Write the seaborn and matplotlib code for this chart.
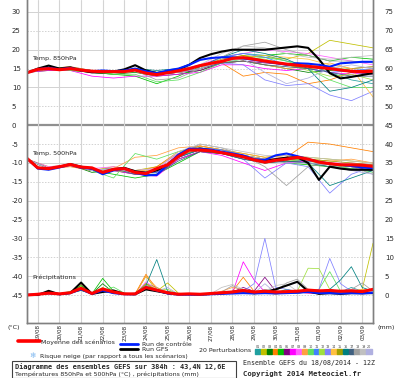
import numpy as np
import pandas as pd
import seaborn as sns
import matplotlib
matplotlib.use("Agg")
import matplotlib.pyplot as plt
from matplotlib.lines import Line2D
from matplotlib.patches import Rectangle

# ---------------- DATA ----------------
dates = ["19/08", "20/08", "21/08", "22/08", "23/08", "24/08", "25/08", "26/08",
         "27/08", "28/08", "29/08", "30/08", "31/08", "01/09", "02/09", "03/09"]

# 12-hourly main runs (t = 0 .. 16 days from 18/08 12Z)
mean850 = [13.9, 14.8, 15.0, 14.7, 15.0, 14.6, 14.3, 14.2, 14.2, 14.2, 14.6, 13.8, 13.4, 13.9, 14.4, 15.0, 15.8,
           16.4, 16.9, 17.7, 17.9, 17.5, 17.0, 16.6, 16.2, 15.9, 15.6, 15.3, 15.0, 14.6, 14.3, 14.2, 14.3]
ctrl850 = [13.9, 14.8, 15.2, 14.8, 15.2, 14.5, 14.3, 14.5, 14.3, 14.5, 15.0, 14.3, 13.8, 14.5, 15.0, 16.0, 17.3,
           17.8, 18.0, 18.0, 17.7, 17.3, 16.9, 16.5, 16.0, 16.4, 16.3, 16.0, 15.5, 16.4, 16.6, 16.8, 16.8]
gfs850 = [13.9, 15.0, 15.8, 15.0, 15.3, 14.5, 14.0, 14.0, 14.2, 14.8, 15.9, 14.5, 13.8, 14.2, 14.8, 16.0, 17.8,
          18.8, 19.5, 20.0, 20.0, 20.0, 20.0, 20.3, 20.6, 20.9, 20.5, 17.5, 13.8, 12.4, 12.8, 13.3, 13.8]

mean500 = [-8.8, -11.3, -11.5, -11.0, -10.4, -11.1, -11.3, -12.5, -11.7, -11.5, -12.5, -12.8, -11.5, -10.5, -8.3,
           -6.6, -6.6, -6.8, -7.3, -7.8, -8.4, -9.2, -9.8, -9.3, -9.0, -8.5, -9.0, -9.8, -10.2, -10.5, -10.5, -10.6, -10.9]
ctrl500 = [-8.8, -11.5, -11.8, -11.2, -10.5, -11.3, -11.5, -13.0, -12.0, -11.5, -12.5, -13.3, -13.2, -10.5, -7.8,
           -6.2, -6.3, -6.5, -7.0, -7.5, -8.0, -9.0, -9.2, -8.0, -7.5, -8.2, -9.0, -9.7, -10.2, -10.5, -10.8, -11.2, -11.4]
gfs500 = [-8.8, -11.3, -11.5, -11.0, -10.3, -11.0, -11.5, -12.5, -11.7, -11.3, -12.2, -12.6, -12.0, -10.5, -8.0,
          -6.5, -6.2, -6.6, -7.2, -7.8, -8.3, -9.2, -9.5, -9.0, -8.6, -8.5, -10.0, -14.5, -11.0, -11.5, -11.8, -11.8, -11.8]

meanpr = [0, 0.2, 0.5, 0.3, 0.6, 1.8, 0.4, 1.6, 0.8, 0.3, 0.3, 2.0, 1.3, 0.6, 0.2, 0.3, 0.2,
          0.4, 0.6, 0.8, 1.2, 0.8, 1.0, 0.8, 0.9, 1.0, 1.3, 1.1, 1.2, 1.0, 1.1, 0.9, 1.5]
ctrlpr = [0, 0.2, 0.5, 0.2, 0.5, 1.5, 0.3, 1.2, 0.5, 0.2, 0.2, 2.0, 1.2, 0.4, 0.1, 0.1, 0.1,
          0.2, 0.3, 0.4, 0.5, 0.4, 0.5, 0.4, 0.5, 0.6, 0.8, 0.5, 0.5, 0.4, 0.5, 0.4, 0.6]
gfspr = [0, 0, 1.1, 0.2, 0.5, 3.3, 0.3, 0.8, 1.2, 0.3, 0.2, 1.5, 1.0, 0.5, 0.2, 0.2, 0.1,
         0.3, 0.5, 0.8, 1.2, 0.5, 0.8, 1.5, 2.5, 3.5, 1.0, 0.3, 0.5, 0.3, 0.5, 0.5, 0.5]

# daily perturbation members, 850 hPa (t = 0 .. 16 days)
p850 = {
    "01": [14, 15.5, 15, 14.5, 14, 15, 14, 14.5, 15.5, 18, 19, 18.5, 17, 16, 14, 12, 11],
    "02": [14, 15, 15.5, 14, 14, 14.5, 13.5, 14, 15, 17, 18.5, 18, 17.5, 19, 22.5, 21.5, 20.5],
    "03": [14, 15, 14.5, 14, 13.5, 14, 13, 13.5, 14.5, 16.5, 17, 16, 15, 14, 14.5, 15, 15.5],
    "04": [14, 15, 15, 14, 14, 14.5, 13.5, 14, 15, 16.5, 13, 14, 13.5, 11, 12, 14, 15],
    "05": [14, 14.5, 15, 14, 13.5, 13, 11, 13, 15.5, 17, 18, 18.5, 19, 18.5, 17, 18, 17.5],
    "06": [14, 15, 15, 14, 14, 14.5, 13.5, 14, 14.5, 16.5, 17, 16.5, 16, 15.5, 15, 14, 13.5],
    "07": [14, 14.5, 14.5, 13, 12.5, 13, 13, 13.5, 14, 16, 16, 15, 14.5, 15, 14, 13.5, 14.5],
    "08": [14, 15, 15.5, 14.5, 14, 14.5, 13.5, 14.5, 16, 18, 19, 20, 19.5, 19, 18, 17, 16],
    "09": [14, 15, 15, 14, 14, 14.5, 14, 14, 15, 16.5, 17, 16, 15, 15.5, 16.5, 15, 15.5],
    "10": [14, 15, 14.5, 14, 13.5, 13.5, 11.5, 12, 14, 16.5, 17.5, 18, 17, 15, 12, 10, 10],
    "11": [14, 15, 15, 14.5, 14, 15, 14, 14.5, 15.5, 18, 19, 18, 16, 15, 14, 14.5, 15],
    "12": [14, 15, 15, 14, 14, 14.5, 14, 14, 15, 17, 18, 17.5, 16, 14.5, 13, 13.5, 12],
    "13": [14, 15, 15, 14, 14, 14.5, 13.5, 14, 15, 16.5, 16, 12, 10.5, 11, 8, 6.5, 9],
    "14": [14, 15, 15, 14, 14, 14.5, 14, 14, 15, 17, 18, 18.5, 18, 17.5, 16, 15, 7.5],
    "15": [14, 15, 15.5, 14.5, 14, 15, 14, 14.5, 15.5, 17.5, 18.5, 17, 16, 15, 15.5, 14.5, 14],
    "16": [14, 15, 15, 14.5, 14, 15, 14.5, 15, 15.5, 18, 20, 19, 17.5, 15, 9, 10, 12],
    "17": [14, 15, 15, 14, 14, 14.5, 13.5, 14, 15, 16.5, 17, 16, 15.5, 15, 14, 13, 13],
    "18": [14, 15, 15, 14, 14, 14.5, 12, 12.5, 15, 18, 21, 22, 20, 18.5, 17, 17, 16.5],
    "19": [14, 15, 15, 14.5, 14, 14.5, 13.5, 14.5, 16, 19, 21, 20.5, 19, 18, 17.5, 18, 18.5],
    "20": [14, 15, 15, 14, 14, 14.5, 14, 14, 15, 17, 17.5, 14, 11, 12.5, 15, 16, 15],
}

# daily perturbation members, 500 hPa
p500 = {
    "01": [-9, -11.5, -10.5, -12, -11.5, -12.5, -12, -8, -6, -7, -8, -9, -9, -10, -11, -11.5, -12],
    "02": [-9, -11, -10.5, -12, -11, -12, -11, -7.5, -5.5, -6.5, -7.5, -8.5, -8, -8.5, -9, -9.5, -10],
    "03": [-9, -11.5, -10.5, -12.5, -12, -13, -13, -9, -7, -7.5, -8.5, -10, -9.5, -10, -10.5, -11, -11],
    "04": [-9, -11.5, -11, -12, -11.5, -12.5, -11, -7, -5.5, -6.5, -8, -9.5, -8.5, -4.5, -5, -6, -7],
    "05": [-9, -11.5, -10.5, -12, -13, -14, -13, -10, -7, -7.5, -8, -9, -10, -10.5, -11, -10.5, -11],
    "06": [-9, -11.5, -10.5, -12, -11.5, -12.5, -12.5, -8.5, -6.5, -7, -8.5, -9.5, -9, -9.5, -10, -11, -12],
    "07": [-9, -11.5, -10.5, -12, -12, -13, -13.5, -9, -7, -8, -10, -12, -10, -9.5, -10, -11, -10.5],
    "08": [-9, -11, -10.5, -11.5, -11, -12, -11.5, -7.5, -6, -7, -8, -9, -8.5, -9, -10, -10, -10.5],
    "09": [-9, -11.5, -10.5, -12, -11.5, -8.5, -8, -6, -5.5, -6.5, -7.5, -8.5, -8, -9, -9.5, -9, -10],
    "10": [-9, -11.5, -10.5, -12, -14, -7.5, -9, -7, -6, -7, -8.5, -9.5, -9, -9.5, -10.5, -11.5, -12.5],
    "11": [-9, -11.5, -10.5, -12, -11.5, -12.5, -12.5, -8.5, -6, -6.5, -8, -9, -9, -9.5, -10, -10.5, -11],
    "12": [-9, -11.5, -10.5, -12, -12, -12.5, -12, -8, -6.5, -7, -8.5, -10, -9.5, -9, -10, -11, -11.5],
    "13": [-9, -11.5, -10.5, -12, -11.5, -12.5, -12, -8.5, -6.5, -7.5, -9, -14, -10, -11, -18, -13, -11],
    "14": [-9, -11.5, -10.5, -12, -11.5, -12, -12, -8, -6, -7, -8, -9, -8.5, -9, -10, -10.5, -11],
    "15": [-9, -11.5, -10.5, -12, -11.5, -12.5, -12, -8, -6.5, -7, -8.5, -9.5, -9, -9, -9.5, -10, -10.5],
    "16": [-9, -11.5, -10.5, -12, -11.5, -12.5, -12, -8.5, -6.5, -7.5, -9, -10, -9.5, -10, -16, -14, -12],
    "17": [-9, -11.5, -10.5, -12, -11.5, -13, -13, -9.5, -7, -7.5, -9, -10, -9.5, -10, -11, -12, -12],
    "18": [-9, -11.5, -10.5, -12, -11.5, -12.5, -12, -8, -5, -6, -8, -11, -16, -11, -10, -11, -13],
    "19": [-9, -11.5, -10.5, -12, -11.5, -12, -11.5, -7, -5, -6, -7, -8, -8, -8.5, -9, -9.5, -10],
    "20": [-9, -11.5, -10.5, -12, -11.5, -12.5, -12, -8, -6, -7, -8.5, -9.5, -10, -10, -10.5, -12, -13],
}

# 12-hourly perturbation precipitation (mm)
ppr = {
    "01": [0, 0.2, 0.5, 0.2, 0.5, 1.5, 0.3, 1.5, 0.8, 0.2, 0.2, 3.0, 2.0, 0.5, 0.2, 0.2, 0.1, 0.3, 0.5, 0.5, 1.0, 0.5, 0.5, 0.8, 0.5, 0.8, 1.0, 0.8, 1.5, 0.8, 2.0, 1.0, 0.8],
    "02": [0, 0.2, 0.5, 0.2, 0.8, 2.5, 0.3, 2.0, 0.5, 0.2, 0.2, 5.0, 1.0, 3.2, 0.5, 0.2, 0.1, 0.3, 0.3, 0.5, 0.8, 0.3, 0.5, 0.3, 0.5, 0.5, 0.8, 0.5, 1.0, 0.5, 0.8, 1.5, 13.7],
    "03": [0, 0.1, 0.3, 0.2, 0.5, 1.2, 0.3, 3.0, 0.6, 0.2, 0.2, 2.5, 1.0, 0.3, 0.2, 0.2, 0.1, 0.2, 0.5, 0.8, 0.6, 0.5, 1.0, 0.5, 0.8, 0.5, 1.5, 0.8, 1.0, 0.5, 1.5, 0.8, 0.5],
    "04": [0, 0.2, 0.4, 0.2, 0.5, 2.0, 0.2, 1.2, 0.5, 0.2, 0.3, 5.5, 1.5, 0.5, 0.2, 0.1, 0.2, 0.5, 0.8, 1.0, 4.7, 1.0, 0.5, 0.3, 0.5, 0.8, 0.5, 0.3, 0.8, 0.5, 0.5, 0.3, 0.5],
    "05": [0, 0.2, 0.5, 0.3, 0.6, 2.5, 0.3, 4.4, 1.0, 0.3, 0.2, 2.5, 1.5, 0.5, 0.2, 0.2, 0.1, 0.2, 0.3, 0.5, 0.8, 0.5, 0.8, 0.5, 1.5, 0.8, 1.0, 0.5, 0.8, 1.0, 1.2, 0.8, 1.0],
    "06": [0, 0.1, 0.5, 0.2, 0.5, 1.8, 0.3, 1.0, 0.5, 0.2, 0.2, 2.0, 1.2, 0.3, 0.2, 0.1, 0.1, 0.3, 0.5, 0.8, 2.0, 1.0, 4.7, 1.0, 0.8, 0.5, 1.0, 0.5, 0.8, 1.0, 0.8, 0.5, 1.2],
    "07": [0, 0.2, 0.3, 0.2, 0.5, 1.5, 0.2, 1.0, 0.5, 0.2, 0.2, 2.2, 1.0, 0.5, 0.2, 0.2, 0.1, 0.2, 0.3, 0.5, 8.8, 4.0, 0.8, 0.5, 0.5, 0.8, 0.5, 0.5, 1.0, 0.8, 0.5, 0.8, 1.0],
    "08": [0, 0.2, 0.5, 0.2, 0.5, 2.0, 0.3, 1.5, 0.8, 0.2, 0.2, 3.5, 1.5, 0.5, 0.2, 0.2, 0.1, 0.2, 0.3, 0.5, 0.8, 0.5, 1.0, 0.5, 0.5, 0.8, 1.2, 0.8, 1.0, 0.5, 1.5, 1.0, 0.8],
    "09": [0, 0.2, 0.5, 0.2, 0.8, 3.0, 0.5, 1.5, 0.8, 0.3, 0.2, 5.0, 2.0, 0.8, 0.3, 0.2, 0.1, 0.3, 1.0, 2.0, 1.5, 0.8, 0.5, 0.3, 0.5, 0.8, 1.0, 0.5, 0.8, 0.5, 1.0, 1.5, 1.2],
    "10": [0, 0.2, 0.5, 0.3, 1.0, 1.5, 0.5, 1.2, 2.1, 0.5, 0.2, 2.0, 1.0, 0.5, 0.2, 0.2, 0.1, 0.2, 0.5, 0.8, 0.6, 0.5, 0.8, 0.5, 0.5, 0.8, 1.0, 1.5, 6.2, 1.0, 0.8, 0.5, 0.8],
    "11": [0, 0.2, 0.5, 0.2, 0.5, 1.8, 0.3, 1.2, 0.6, 0.2, 0.2, 2.5, 1.0, 0.4, 0.2, 0.2, 0.1, 0.2, 0.5, 0.5, 0.8, 0.5, 0.8, 0.5, 0.5, 0.5, 0.8, 0.5, 0.8, 0.5, 0.6, 0.5, 0.8],
    "12": [0, 0.2, 0.5, 0.2, 0.5, 1.5, 0.3, 1.0, 0.5, 0.2, 0.2, 2.0, 1.5, 1.5, 0.3, 0.2, 0.1, 0.2, 0.3, 0.5, 0.5, 0.3, 0.5, 0.5, 1.0, 1.0, 7.1, 7.0, 1.5, 0.8, 0.5, 0.5, 0.8],
    "13": [0, 0.2, 0.5, 0.2, 0.5, 1.5, 0.3, 1.0, 0.5, 0.2, 0.2, 2.5, 1.0, 0.5, 0.2, 0.2, 0.1, 0.3, 0.5, 0.8, 1.0, 3.0, 15.0, 2.0, 1.5, 1.0, 0.8, 1.5, 9.7, 3.0, 1.0, 0.5, 0.8],
    "14": [0, 0.2, 0.5, 0.2, 0.6, 2.0, 0.3, 1.5, 0.5, 0.2, 0.2, 3.0, 1.5, 0.5, 0.2, 0.2, 0.1, 0.2, 0.3, 0.5, 0.8, 0.5, 0.5, 0.3, 0.5, 0.5, 0.8, 0.5, 0.8, 0.5, 0.8, 0.5, 1.5],
    "15": [0, 0.2, 0.5, 0.2, 0.5, 2.0, 0.3, 1.5, 0.5, 0.2, 0.2, 3.0, 1.2, 0.8, 0.2, 0.2, 0.1, 0.2, 0.3, 0.5, 0.8, 0.5, 0.8, 0.5, 0.8, 0.5, 1.0, 0.8, 1.0, 0.8, 1.0, 0.8, 1.0],
    "16": [0, 0.2, 0.5, 0.2, 0.5, 1.5, 0.3, 1.2, 0.8, 0.3, 0.5, 2.5, 9.4, 1.0, 0.3, 0.2, 0.1, 0.2, 0.3, 0.5, 0.8, 0.5, 0.5, 0.5, 0.8, 0.5, 1.0, 1.0, 1.5, 4.0, 7.5, 2.0, 1.0],
    "17": [0, 0.1, 0.4, 0.2, 0.5, 1.5, 0.3, 1.0, 0.5, 0.2, 0.2, 2.0, 1.0, 0.4, 0.2, 0.2, 0.1, 0.2, 0.5, 0.8, 0.8, 0.5, 0.8, 0.5, 0.6, 0.5, 0.8, 0.5, 0.8, 0.5, 0.6, 0.5, 0.8],
    "18": [0, 0.2, 0.5, 0.2, 0.5, 1.5, 0.3, 1.2, 0.5, 0.2, 0.2, 2.5, 1.0, 0.5, 0.2, 0.2, 0.1, 0.3, 0.8, 2.5, 1.0, 0.5, 1.5, 1.0, 3.2, 4.2, 1.5, 0.8, 0.8, 0.5, 1.5, 3.2, 1.0],
    "19": [0, 0.2, 0.5, 0.2, 0.5, 1.5, 0.3, 1.0, 0.5, 0.2, 0.2, 2.0, 1.0, 0.5, 0.2, 0.2, 0.1, 0.3, 2.0, 2.8, 1.5, 0.5, 1.0, 2.5, 3.0, 1.0, 0.8, 0.5, 0.8, 0.5, 1.5, 1.0, 0.8],
    "20": [0, 0.2, 0.5, 0.2, 0.5, 1.5, 0.3, 1.0, 0.5, 0.2, 0.2, 2.0, 1.0, 2.0, 0.2, 0.2, 0.1, 0.2, 0.3, 0.5, 0.8, 0.5, 3.0, 0.5, 0.8, 0.5, 0.8, 0.5, 0.8, 0.5, 0.8, 0.5, 1.0],
}

member_colors = ["#20a0a0", "#c0c000", "#008000", "#ff8000", "#00c000", "#800080", "#ff00ff",
                 "#ff60ff", "#ffa040", "#60e060", "#4080ff", "#a0e040", "#8080ff", "#ffc040",
                 "#a0a000", "#008080", "#406080", "#a0a0a0", "#c0c0c0", "#b0b0e0"]
members = list(p850.keys())

# ---------------- BUILD FRAMES ----------------
t12 = np.arange(33) * 0.5
tday = np.arange(17) * 1.0

def long_members(d, times):
    rows = []
    for m, vals in d.items():
        for tt, v in zip(times, vals):
            rows.append((m, tt, v))
    return pd.DataFrame(rows, columns=["member", "t", "v"])

df850 = long_members(p850, tday)
df500 = long_members(p500, tday)
dfpr = long_members(ppr, t12)
main = pd.DataFrame({"t": t12, "mean850": mean850, "ctrl850": ctrl850, "gfs850": gfs850,
                     "mean500": mean500, "ctrl500": ctrl500, "gfs500": gfs500,
                     "meanpr": meanpr, "ctrlpr": ctrlpr, "gfspr": gfspr})

# ---------------- FIGURE ----------------
sns.set_style("white")
plt.rcParams["font.family"] = ["DejaVu Sans"]
W, H = 400, 378
fig = plt.figure(figsize=(W / 100, H / 100), dpi=100)
x0, x1, ybot = 27, 373, 323
ax = fig.add_axes([x0 / W, 1 - ybot / H, (x1 - x0) / W, ybot / H])
ax.set_facecolor("white")
YTOP, YBOT = 33.18, -52.42
ax.set_xlim(0, 16)
ax.set_ylim(YBOT, YTOP)

# grid
for v in range(-45, 35, 5):
    if v == 0:
        continue
    ax.axhline(v, color="#d2d2d2", lw=0.7, ls=(0, (1.5, 1.5)) if v % 10 else "-", zorder=0)
ax.axhline(0, color="#909090", lw=1.6, zorder=0)
xt = np.arange(16) + 0.5
for x in xt:
    ax.axvline(x, color="#d4d4d4", lw=0.8, zorder=0)

pal = dict(zip(members, member_colors))
sns.lineplot(data=df850, x="t", y="v", hue="member", palette=pal, lw=0.55, legend=False, ax=ax,
             estimator=None, sort=False)
sns.lineplot(data=df500, x="t", y="v", hue="member", palette=pal, lw=0.55, legend=False, ax=ax,
             estimator=None, sort=False)
for k, c, lw in [("gfs", "black", 1.5), ("ctrl", "#0020ff", 1.5), ("mean", "#ff0000", 2.2)]:
    for lev in ("850", "500"):
        sns.lineplot(data=main, x="t", y=k + lev, color=c, lw=lw, ax=ax)

ax2 = ax.twinx()
ax2.set_ylim(YBOT + 45, YTOP + 45)
sns.lineplot(data=dfpr, x="t", y="v", hue="member", palette=pal, lw=0.55, legend=False, ax=ax2,
             estimator=None, sort=False)
for k, c, lw in [("gfspr", "black", 1.5), ("ctrlpr", "#0020ff", 1.5), ("meanpr", "#ff0000", 2.2)]:
    sns.lineplot(data=main, x="t", y=k, color=c, lw=lw, ax=ax2)

# axes cosmetics
for a in (ax, ax2):
    a.set_xlabel("")
    a.set_ylabel("")
    a.spines["top"].set_visible(False)
    for s in ("left", "right", "bottom"):
        a.spines[s].set_color("#808080")
        a.spines[s].set_linewidth(1.0)
ax.set_xticks(xt)
ax.set_xticklabels(dates, rotation=90, fontsize=4.1, va="top")
ax.tick_params(axis="x", length=0, pad=1.0)
ax.set_yticks(np.arange(-45, 31, 5))
ax.set_yticklabels([str(v) for v in range(-45, 31, 5)], fontsize=5)
ax.tick_params(axis="y", length=0, pad=11)
for lab in ax.get_yticklabels():
    lab.set_horizontalalignment("left")
ax2.set_yticks(np.arange(0, 76, 5))
ax2.set_yticklabels([str(v) for v in range(0, 76, 5)], fontsize=5)
ax2.tick_params(axis="y", length=0, pad=8.5)

# panel labels
ax.text(0.23, 17.7, "Temp. 850hPa", fontsize=4.6, va="center")
ax.text(0.23, -7.5, "Temp. 500hPa", fontsize=4.6, va="center")
ax.text(0.23, -40.3, "Précipitations", fontsize=4.6, va="center")

# ---------------- LEGEND / FOOTER ----------------
def P(x, y):
    return (x / W, 1 - y / H)

fig.text(*P(8, 327), "(°C)", fontsize=4.6, va="center")
fig.text(*P(378, 328), "(mm)", fontsize=4.6, va="center")

def legline(xa, xb, y, c, lw):
    fig.add_artist(Line2D([xa / W, xb / W], [1 - y / H, 1 - y / H], color=c, lw=lw,
                          transform=fig.transFigure))

legline(18, 40, 341, "#ff0000", 2.6)
fig.text(*P(41, 342), "Moyenne des scénarios", fontsize=4.5, va="center")
legline(120, 138, 344, "#0020ff", 2.0)
fig.text(*P(142, 344), "Run de contrôle", fontsize=4.5, va="center")
legline(120, 138, 349, "black", 2.0)
fig.text(*P(142, 349.5), "Run GFS", fontsize=4.5, va="center")
fig.text(*P(29, 356), "\u2744", fontsize=5.5, color="#7fb8f0", va="center")
fig.text(*P(40, 356), "Risque neige (par rapport a tous les scénarios)", fontsize=4.5, va="center")
fig.text(*P(199, 351), "20 Perturbations", fontsize=4.5, va="center")
bw = 5.85
for i, c in enumerate(member_colors):
    xa = 255 + i * bw
    fig.add_artist(Rectangle((xa / W, 1 - 353.5 / H), (bw - 0.4) / W, 4.5 / H, color=c,
                             transform=fig.transFigure))
    fig.text((xa + bw / 2) / W, 1 - 346.8 / H, members[i], fontsize=2.4, ha="center", va="center",
             color="#404040")

fig.add_artist(Rectangle((12 / W, 0.0), 224 / W, 17.5 / H, fill=False, ec="#404040", lw=0.8,
                         transform=fig.transFigure))
fig.text(*P(15, 366.5), "Diagramme des ensembles GEFS sur 384h : 43,4N 12,6E", fontsize=4.95,
         family="DejaVu Sans Mono", weight="bold", va="center")
fig.text(*P(15, 374.5), "Températures 850hPa et 500hPa (°C) , précipitations (mm)", fontsize=4.5,
         va="center")
fig.text(*P(243, 362.5), "Ensemble GEFS du 18/08/2014 - 12Z", fontsize=4.8,
         family="DejaVu Sans Mono", va="center")
fig.text(*P(243, 373.5), "Copyright 2014 Meteociel.fr", fontsize=5.2,
         family="DejaVu Sans Mono", weight="bold", va="center")

fig.savefig("out.png", dpi=100, facecolor="white")
